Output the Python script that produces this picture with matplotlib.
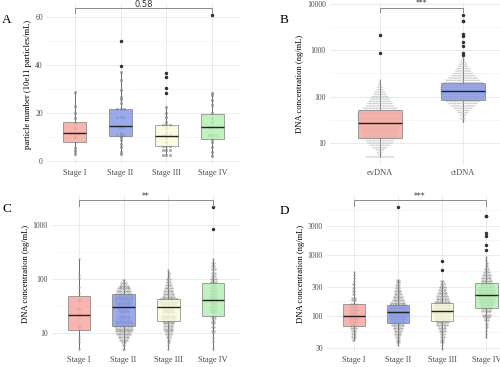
import numpy as np
import matplotlib.pyplot as plt

# Panel A: particle number per stage
stages = ['Stage I', 'Stage II', 'Stage III', 'Stage IV']
a_points = [
    [2.9, 4.3, 5.3, 9.9, 11.5, 11.5, 11.5, 13.9, 16.0, 17.8, 20.1, 22.9, 28.9],
    [2.9, 3.9, 6.0, 7.1, 8.75, 10.1, 10.4, 10.8, 10.8, 10.8, 11.8, 14.3, 14.3,
     18.2, 18.2, 18.2, 21.5, 21.5, 21.5, 24.0, 25.7, 26.8, 29.6, 33.8, 37.2],
    [2.5, 2.5, 2.5, 4.6, 4.6, 4.6, 6.25, 6.25, 6.25, 8.0, 9.4, 10.8, 10.8, 10.8,
     12.2, 13.6, 15.0, 15.0, 15.0, 16.4, 18.5, 20.1, 22.4],
    [2.2, 3.9, 6.0, 8.0, 9.0, 10.8, 10.8, 10.8, 14.3, 14.3, 14.3, 16.4, 17.8,
     19.9, 23.3, 25.4, 27.5, 28.5],
]
a_outliers = [[], [39.6, 50.1], [28.5, 30.3, 34.9, 36.5], [60.8]]
# whislo, q1, median, q3, whishi
a_box = [[2.9, 8.0, 11.7, 16.3, 28.9], [2.9, 10.4, 14.6, 21.8, 37.2],
         [2.5, 6.4, 10.5, 15.0, 22.4], [2.2, 9.3, 14.3, 19.6, 28.5]]
a_label = '0.58'

# Panel B: evDNA vs ctDNA, dots as (level, count) rows
b_groups = ['evDNA', 'ctDNA']
ev_levels = [230, 200, 178, 158, 141, 126, 112, 100, 89, 79, 71, 63, 56, 50, 45, 40,
             35, 32, 28, 25, 22, 20, 18, 16, 14, 12.6, 11.2, 10, 8.9, 7.9, 7.1, 6.3, 5.6, 5.0]
ev_counts = [1, 2, 3, 4, 5, 7, 9, 12, 14, 16, 18, 20, 24, 28, 30, 32,
             32, 30, 30, 30, 28, 28, 26, 26, 24, 22, 20, 18, 14, 10, 6, 4, 3, 20]
ct_levels = [700, 630, 560, 500, 450, 400, 355, 316, 282, 251, 224, 200, 178, 158, 141,
             126, 112, 100, 89, 79, 71, 63, 56, 50, 45, 40, 35, 32, 28]
ct_counts = [2, 3, 4, 6, 8, 10, 12, 15, 18, 22, 26, 30, 32, 34, 35,
             35, 34, 32, 30, 26, 22, 18, 14, 10, 8, 5, 4, 3, 2]
b_outliers = [[2140, 870], [5700, 4200, 4200, 2250, 2000, 1480, 1250, 890, 790]]
b_box = [[5.0, 12.6, 27.5, 51, 230], [28, 85, 129, 200, 680]]
b_label = '***'

# Panel C: DNA concentration per stage
c_levels = [
    [235, 120, 105, 71, 55, 41.5, 28, 22.5, 20.4, 13.7, 12.2, 8.7, 7.7, 6.7, 5.1],
    [95, 85, 75, 67, 60, 53, 47, 42, 38, 34, 30, 27, 24, 21, 19, 17, 15, 13.5, 12,
     10.7, 9.5, 8.5, 7.5, 6.7, 6, 5],
    [145, 130, 115, 100, 88, 78, 68, 60, 53, 47, 42, 38, 34, 30, 27, 24, 21, 19, 17,
     15, 13.5, 12, 10.7, 9.5, 8.5, 7.5, 6.7, 6, 5],
    [230, 200, 175, 150, 130, 115, 100, 88, 78, 68, 60, 53, 47, 42, 38, 34, 30, 27,
     24, 21, 19, 17, 15, 13, 11, 10, 8, 7, 5],
]
c_counts = [
    [1, 1, 1, 1, 1, 2, 3, 2, 1, 2, 1, 1, 1, 1, 1],
    [2, 4, 6, 8, 9, 10, 11, 12, 10, 9, 8, 7, 6, 6, 8, 10, 11, 12, 11, 10, 9, 7, 5, 3, 2, 2],
    [1, 2, 2, 3, 3, 4, 5, 6, 7, 8, 12, 13, 10, 8, 7, 8, 9, 9, 8, 7, 6, 6, 5, 4, 3, 2, 2, 1, 1],
    [1, 2, 2, 3, 3, 3, 4, 4, 3, 3, 4, 4, 5, 4, 4, 3, 4, 4, 3, 3, 3, 2, 2, 2, 2, 1, 1, 1, 1],
]
c_outliers = [[], [], [], [2150, 850]]
c_box = [[5.1, 11.2, 21.8, 48, 235], [5, 13.7, 30.5, 53, 95],
         [5, 16.5, 30, 43, 145], [5, 20.3, 40, 84, 230]]
c_label = '**'

# Panel D: DNA concentration per stage
d_levels = [
    [525, 470, 420, 370, 330, 290, 260, 230, 200, 180, 160, 140, 125, 110, 100, 90,
     80, 72, 64, 57, 51, 46, 41],
    [395, 355, 320, 285, 255, 230, 205, 185, 165, 150, 135, 120, 110, 100, 90, 80,
     72, 64, 57, 51, 46, 41, 37, 34],
    [370, 330, 295, 265, 235, 210, 190, 170, 150, 135, 120, 110, 100, 90, 80, 72,
     64, 57, 51, 46, 41, 37, 33, 29],
    [930, 830, 740, 660, 590, 530, 470, 420, 380, 340, 300, 270, 240, 215, 190, 170,
     150, 135, 120, 105, 95, 85, 75, 65, 57, 50, 45],
]
d_counts = [
    [1, 1, 1, 1, 2, 2, 2, 2, 3, 3, 4, 5, 5, 4, 6, 5, 5, 4, 4, 3, 3, 3, 2],
    [2, 2, 3, 3, 4, 5, 6, 7, 9, 11, 12, 13, 12, 11, 10, 9, 8, 6, 5, 4, 3, 2, 2, 1],
    [2, 3, 4, 5, 6, 7, 8, 10, 11, 12, 12, 11, 10, 9, 8, 7, 5, 4, 3, 3, 2, 2, 1, 1],
    [1, 1, 2, 2, 3, 4, 5, 6, 7, 8, 9, 10, 10, 10, 10, 9, 8, 7, 6, 5, 4, 3, 2, 2, 1, 1, 1],
]
d_outliers = [[], [6100], [810, 560], [4300, 4300, 2300, 2050, 1480, 1220]]
d_box = [[41, 68, 99, 157, 525], [34, 77, 115, 150, 395],
         [29, 84, 120, 164, 370], [45, 135, 224, 345, 930]]
d_label = '***'

stage_colors = ['#F5A39C', '#8295E6', '#FAFADA', '#B2EEB2']
b_colors = ['#F5A39C', '#8295E6']

serif = 'Liberation Serif'
tick_grey = '#4D4D4D'


def swarm(ax, x, levels, counts, step, size, face='#A8A8A8', edge='#707070'):
    xs, ys = [], []
    for v, n in zip(levels, counts):
        xs.extend(x + (np.arange(n) - (n - 1) / 2) * step)
        ys.extend([v] * n)
    ax.scatter(xs, ys, s=size, facecolor=face, edgecolor=edge,
               linewidths=0.2, alpha=0.7, zorder=2)


def boxes(ax, box, outliers, colors, width):
    stats = []
    for b, o in zip(box, outliers):
        stats.append(dict(whislo=b[0], q1=b[1], med=b[2], q3=b[3], whishi=b[4], fliers=o))
    pos = np.arange(1, len(box) + 1)
    art = ax.bxp(stats, positions=pos, widths=width, patch_artist=True, showcaps=False,
                 boxprops=dict(edgecolor='#7A7A7A', linewidth=0.6),
                 whiskerprops=dict(color='#555555', linewidth=0.6),
                 medianprops=dict(color='#222222', linewidth=1.0),
                 flierprops=dict(marker='o', markersize=1.5, markerfacecolor='#333333',
                                 markeredgecolor='#333333'),
                 manage_ticks=False)
    for patch, c in zip(art['boxes'], colors):
        patch.set_facecolor(c)
        patch.set_alpha(0.8)
        patch.set_zorder(3)
    for m in art['medians']:
        m.set_zorder(4)
    for w in art['whiskers']:
        w.set_zorder(1.5)


def style(ax, labels, ylabel, yticks, minor, ylim, n):
    ax.set_xlim(0.4, n + 0.6)
    ax.set_ylim(*ylim)
    ax.set_xticks(np.arange(1, n + 1))
    ax.set_xticklabels(labels, family=serif, fontsize=6.0, color=tick_grey)
    ax.set_yticks(yticks)
    ax.set_yticklabels([str(t) for t in yticks], family=serif, fontsize=5.6, color=tick_grey)
    ax.set_yticks(minor, minor=True)
    ax.tick_params(which='both', length=0, pad=3)
    ax.grid(which='major', color='#E6E6E6', linewidth=0.6, zorder=0)
    ax.grid(which='minor', axis='y', color='#F2F2F2', linewidth=0.4, zorder=0)
    ax.set_axisbelow(True)
    for s in ax.spines.values():
        s.set_visible(False)
    ax.set_ylabel(ylabel, family=serif, fontsize=6.2, labelpad=2)


def bracket(ax, x1, x2, y, tip, label, fs):
    ax.plot([x1, x1, x2, x2], [tip, y, y, tip], color='#8A8A8A', lw=0.7,
            clip_on=False, zorder=5)
    ax.annotate(label, ((x1 + x2) / 2, y), xytext=(0, 1.0), textcoords='offset points',
                ha='center', va='baseline', fontsize=fs, color='#333333',
                annotation_clip=False)


fig = plt.figure(figsize=(5, 3.67), dpi=100)
W, H = 500, 367


def axes_px(left, right, top, bottom):
    return fig.add_axes([left / W, 1 - bottom / H, (right - left) / W, (bottom - top) / H])


def letter(x, y, s):
    fig.text(x / W, 1 - y / H, s, family=serif, fontsize=9.5, ha='center', va='center')


# A
axA = axes_px(47, 240, 4, 165)
for i, pts in enumerate(a_points):
    vals, cnts = np.unique(pts, return_counts=True)
    swarm(axA, i + 1, vals, cnts, 0.07, 4, face='#9A9A9A', edge='#5A5A5A')
boxes(axA, a_box, a_outliers, stage_colors, 0.5)
style(axA, stages, 'particle number (10e11 particles/mL)', [0, 20, 40, 60],
      [10, 30, 50], (-1.7, 65.4), 4)
bracket(axA, 1, 4, 63.6, 61.8, a_label, 6)
letter(7, 20, 'A')

# B
axB = axes_px(330, 513, 2, 165)
axB.set_yscale('log')
swarm(axB, 1, ev_levels, ev_counts, 0.017, 1.2, face='#BDBDBD', edge='none')
swarm(axB, 2, ct_levels, ct_counts, 0.016, 1.2, face='#BDBDBD', edge='none')
boxes(axB, b_box, b_outliers, b_colors, 0.52)
style(axB, b_groups, 'DNA concentration (ng/mL)', [10, 100, 1000, 10000],
      [10 ** 1.5, 10 ** 2.5, 10 ** 3.5], (10 ** 0.525, 10 ** 4.04), 2)
bracket(axB, 1, 2, 10 ** 3.92, 10 ** 3.83, b_label, 5.5)
letter(284, 20, 'B')

# C
axC = axes_px(52, 240, 196, 352)
axC.set_yscale('log')
for i in range(4):
    swarm(axC, i + 1, c_levels[i], c_counts[i], 0.036, 1.8)
boxes(axC, c_box, c_outliers, stage_colors, 0.5)
style(axC, stages, 'DNA concentration (ng/mL)', [10, 100, 1000],
      [10 ** 1.5, 10 ** 2.5], (10 ** 0.648, 10 ** 3.537), 4)
bracket(axC, 1, 4, 10 ** 3.46, 10 ** 3.36, c_label, 5.5)
letter(7, 209, 'C')

# D
axD = axes_px(327, 513, 196, 352)
axD.set_yscale('log')
for i in range(4):
    swarm(axD, i + 1, d_levels[i], d_counts[i], 0.036, 1.8)
boxes(axD, d_box, d_outliers, stage_colors, 0.5)
dt = [30, 100, 300, 1000, 3000]
style(axD, stages, 'DNA concentration (ng/mL)', dt,
      [np.sqrt(a * b) for a, b in zip(dt[:-1], dt[1:])] + [np.sqrt(3000 * 10000)],
      (10 ** 1.41, 10 ** 3.967), 4)
bracket(axD, 1, 4, 10 ** 3.90, 10 ** 3.81, d_label, 5.5)
letter(284, 211, 'D')

fig.savefig('out.png', dpi=100)
